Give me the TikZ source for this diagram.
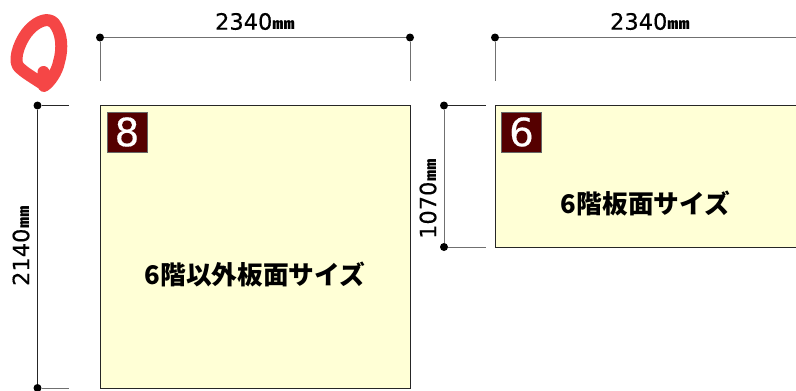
\documentclass[tikz,border=0pt]{standalone}
\usepackage{fontspec}
\newfontfamily\jpfont{Noto Sans CJK JP}
\newfontfamily\digitfont[FakeBold=0.35]{DejaVu Sans}
\definecolor{panel}{HTML}{FFFFD6}
\definecolor{badge}{HTML}{550000}
\definecolor{loopred}{HTML}{F54646}
\definecolor{dimgray}{HTML}{707070}
\tikzset{
  x=1pt,y=-1pt,
  panelbox/.style={draw=black!85,fill=panel,line width=0.9pt},
  badgebox/.style={draw=black!60,fill=badge,line width=0.6pt,minimum size=40pt,inner sep=0pt,text=white,font=\digitfont\fontsize{39}{39}\selectfont},
  dimline/.style={draw=dimgray,line width=1pt},
  dimdot/.style={circle,fill=black,inner sep=0pt,minimum size=8pt},
  dimtext/.style={inner sep=0pt,font=\digitfont\fontsize{22.5}{22.5}\selectfont},
  paneltext/.style={inner sep=0pt,font=\jpfont\bfseries\fontsize{25.7}{25.7}\selectfont},
}
\newcommand{\mmunit}{\scalebox{1.0}[0.68]{\jpfont\bfseries ㎜}}
\begin{document}
\begin{tikzpicture}
\useasboundingbox (0,0) rectangle (796,391);
\clip (0,0) rectangle (796,391);
% panels
\draw[panelbox] (100,105.5) rectangle (410,388);
\draw[panelbox] (495,105.5) rectangle (800,247);
\node[badgebox] (b8) at (127,132) {8};
\node[badgebox] (b6) at (521.5,132) {6};
\node[paneltext] (t8) at (255,275) {6階以外板面サイズ};
\node[paneltext] (t6) at (645.5,203.5) {6階板面サイズ};
% top dimensions
\node[dimdot] (ta) at (100,37.5) {};
\node[dimdot] (tb) at (410,37.5) {};
\node[dimdot] (tc) at (495,37.5) {};
\coordinate (tae) at (100,81);
\coordinate (tbe) at (410,81);
\coordinate (tce) at (495,81);
\coordinate (tde) at (800,37.5);
\draw[dimline] (ta) -- (tb);
\draw[dimline] (ta) -- (tae);
\draw[dimline] (tb) -- (tbe);
\draw[dimline] (tc) -- (tde);
\draw[dimline] (tc) -- (tce);
\node[dimtext] (l1) at (255,21.5) {2340\mmunit};
\node[dimtext] (l2) at (650,21.5) {2340\mmunit};
% left dimension
\node[dimdot] (la) at (37.5,105.5) {};
\node[dimdot] (lb) at (37.5,388) {};
\coordinate (lae) at (69,105.5);
\coordinate (lbe) at (69,388);
\draw[line width=0.9pt,draw=black!85] (la) -- (lb);
\draw[line width=0.9pt,draw=black!85] (la) -- (lae);
\draw[dimline] (lb) -- (lbe);
\node[dimtext,rotate=90] (l3) at (21,246) {2140\mmunit};
% middle dimension
\node[dimdot] (ma) at (444,105.5) {};
\node[dimdot] (mb) at (444,247) {};
\coordinate (mae) at (486,105.5);
\coordinate (mbe) at (486,247);
\draw[dimline] (ma) -- (mb);
\draw[line width=0.9pt,draw=black!85] (ma) -- (mae);
\draw[dimline] (mb) -- (mbe);
\node[dimtext,rotate=90] (l4) at (428,199) {1070\mmunit};
% red loop
\draw[draw=loopred,line width=12pt,line cap=round,line join=round]
  (44,85) .. controls (36,79) and (24,73) .. (18,66)
  .. controls (13,58) and (21,38) .. (30,29)
  .. controls (38,21) and (48,17) .. (54,23)
  .. controls (62,33) and (63,48) .. (59,62)
  .. controls (57,72) and (50,82) .. (44,86) -- (43.5,72);
\end{tikzpicture}
\end{document}
